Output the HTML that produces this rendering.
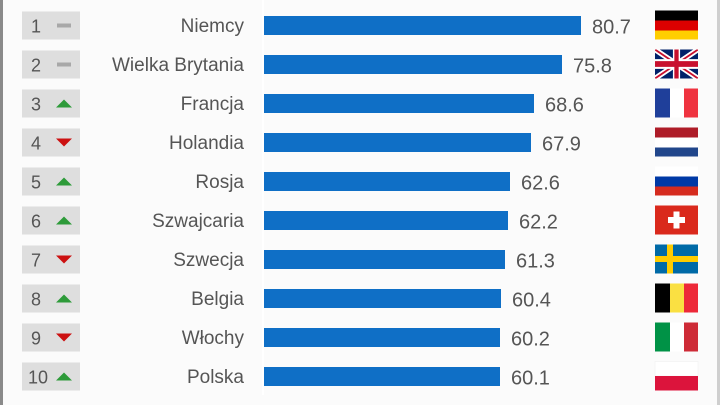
<!DOCTYPE html>
<html><head><meta charset="utf-8"><style>
html,body{margin:0;padding:0;background:#fff;}
svg{display:block;}
text{font-family:"Liberation Sans","DejaVu Sans",sans-serif;}
</style></head><body>
<svg width="720" height="405" viewBox="0 0 720 405" xmlns="http://www.w3.org/2000/svg">
<rect x="0" y="0" width="720" height="405" fill="#fbfbfb"/>
<rect x="0" y="0" width="3" height="405" fill="#8a8a8a"/>
<rect x="717" y="0" width="3" height="405" fill="#cfcfcf"/>
<rect x="262" y="0" width="2" height="395" fill="#ffffff"/>

<!-- rows -->
<g id="rows">
<!-- row template: c = 25.5 + 39*i -->
<g transform="translate(0,25.5)">
<rect x="22" y="-14" width="58" height="28" fill="#dedede"/>
<text x="31" y="7" font-size="18" fill="#555">1</text>
<rect x="57" y="-2" width="14" height="4" fill="#a8a8a8"/>
<text x="244" y="6.5" font-size="19" fill="#555" text-anchor="end">Niemcy</text>
<rect x="264" y="-9.5" width="317" height="19" fill="#0f6fc6"/>
<text x="592" y="8" font-size="20" fill="#555">80.7</text>
<g transform="translate(655,-15)"><rect width="43" height="10" fill="#000"/><rect y="10" width="43" height="10" fill="#dd0000"/><rect y="20" width="43" height="9" fill="#ffce00"/></g>
</g>
<g transform="translate(0,64.5)">
<rect x="22" y="-14" width="58" height="28" fill="#dedede"/>
<text x="31" y="7" font-size="18" fill="#555">2</text>
<rect x="57" y="-2" width="14" height="4" fill="#a8a8a8"/>
<text x="244" y="6.5" font-size="19" fill="#555" text-anchor="end">Wielka Brytania</text>
<rect x="264" y="-9.5" width="298" height="19" fill="#0f6fc6"/>
<text x="573" y="8" font-size="20" fill="#555">75.8</text>
<g transform="translate(655,-15)"><svg width="43" height="29" viewBox="0 0 60 30" preserveAspectRatio="none"><rect width="60" height="30" fill="#012169"/><path d="M0,0 L60,30 M60,0 L0,30" stroke="#fff" stroke-width="6"/><path d="M0,0 L60,30 M60,0 L0,30" stroke="#C8102E" stroke-width="2"/><path d="M30,0 V30 M0,15 H60" stroke="#fff" stroke-width="10"/><path d="M30,0 V30 M0,15 H60" stroke="#C8102E" stroke-width="6"/></svg></g>
</g>
<g transform="translate(0,103.5)">
<rect x="22" y="-14" width="58" height="28" fill="#dedede"/>
<text x="31" y="7" font-size="18" fill="#555">3</text>
<path d="M56,4 L64,-4 L72,4 Z" fill="#2e9b3a"/>
<text x="244" y="6.5" font-size="19" fill="#555" text-anchor="end">Francja</text>
<rect x="264" y="-9.5" width="270" height="19" fill="#0f6fc6"/>
<text x="545" y="8" font-size="20" fill="#555">68.6</text>
<g transform="translate(655,-15)"><rect width="15" height="29" fill="#1f3f9a"/><rect x="15" width="14" height="29" fill="#fff"/><rect x="29" width="14" height="29" fill="#ef3340"/></g>
</g>
<g transform="translate(0,142.5)">
<rect x="22" y="-14" width="58" height="28" fill="#dedede"/>
<text x="31" y="7" font-size="18" fill="#555">4</text>
<path d="M56,-4 L72,-4 L64,4 Z" fill="#cc1111"/>
<text x="244" y="6.5" font-size="19" fill="#555" text-anchor="end">Holandia</text>
<rect x="264" y="-9.5" width="267" height="19" fill="#0f6fc6"/>
<text x="542" y="8" font-size="20" fill="#555">67.9</text>
<g transform="translate(655,-15)"><rect width="43" height="10" fill="#ae1c28"/><rect y="10" width="43" height="10" fill="#fff"/><rect y="20" width="43" height="9" fill="#21468b"/></g>
</g>
<g transform="translate(0,181.5)">
<rect x="22" y="-14" width="58" height="28" fill="#dedede"/>
<text x="31" y="7" font-size="18" fill="#555">5</text>
<path d="M56,4 L64,-4 L72,4 Z" fill="#2e9b3a"/>
<text x="244" y="6.5" font-size="19" fill="#555" text-anchor="end">Rosja</text>
<rect x="264" y="-9.5" width="246" height="19" fill="#0f6fc6"/>
<text x="521" y="8" font-size="20" fill="#555">62.6</text>
<g transform="translate(655,-15)"><rect width="43" height="10" fill="#fff"/><rect y="10" width="43" height="10" fill="#0039a6"/><rect y="20" width="43" height="9" fill="#d52b1e"/></g>
</g>
<g transform="translate(0,220.5)">
<rect x="22" y="-14" width="58" height="28" fill="#dedede"/>
<text x="31" y="7" font-size="18" fill="#555">6</text>
<path d="M56,4 L64,-4 L72,4 Z" fill="#2e9b3a"/>
<text x="244" y="6.5" font-size="19" fill="#555" text-anchor="end">Szwajcaria</text>
<rect x="264" y="-9.5" width="244" height="19" fill="#0f6fc6"/>
<text x="519" y="8" font-size="20" fill="#555">62.2</text>
<g transform="translate(655,-15)"><rect width="43" height="29" fill="#da291c"/><rect x="18.5" y="6" width="6" height="17" fill="#fff"/><rect x="13" y="11.5" width="17" height="6" fill="#fff"/></g>
</g>
<g transform="translate(0,259.5)">
<rect x="22" y="-14" width="58" height="28" fill="#dedede"/>
<text x="31" y="7" font-size="18" fill="#555">7</text>
<path d="M56,-4 L72,-4 L64,4 Z" fill="#cc1111"/>
<text x="244" y="6.5" font-size="19" fill="#555" text-anchor="end">Szwecja</text>
<rect x="264" y="-9.5" width="241" height="19" fill="#0f6fc6"/>
<text x="516" y="8" font-size="20" fill="#555">61.3</text>
<g transform="translate(655,-15)"><rect width="43" height="29" fill="#006aa7"/><rect x="12" width="6" height="29" fill="#fecc00"/><rect y="11.5" width="43" height="6" fill="#fecc00"/></g>
</g>
<g transform="translate(0,298.5)">
<rect x="22" y="-14" width="58" height="28" fill="#dedede"/>
<text x="31" y="7" font-size="18" fill="#555">8</text>
<path d="M56,4 L64,-4 L72,4 Z" fill="#2e9b3a"/>
<text x="244" y="6.5" font-size="19" fill="#555" text-anchor="end">Belgia</text>
<rect x="264" y="-9.5" width="237" height="19" fill="#0f6fc6"/>
<text x="512" y="8" font-size="20" fill="#555">60.4</text>
<g transform="translate(655,-15)"><rect width="15" height="29" fill="#000"/><rect x="15" width="14" height="29" fill="#fae042"/><rect x="29" width="14" height="29" fill="#ed2939"/></g>
</g>
<g transform="translate(0,337.5)">
<rect x="22" y="-14" width="58" height="28" fill="#dedede"/>
<text x="31" y="7" font-size="18" fill="#555">9</text>
<path d="M56,-4 L72,-4 L64,4 Z" fill="#cc1111"/>
<text x="244" y="6.5" font-size="19" fill="#555" text-anchor="end">Włochy</text>
<rect x="264" y="-9.5" width="236" height="19" fill="#0f6fc6"/>
<text x="511" y="8" font-size="20" fill="#555">60.2</text>
<g transform="translate(655,-15)"><rect width="15" height="29" fill="#009246"/><rect x="15" width="14" height="29" fill="#fff"/><rect x="29" width="14" height="29" fill="#ce2b37"/></g>
</g>
<g transform="translate(0,376.5)">
<rect x="22" y="-14" width="58" height="28" fill="#dedede"/>
<text x="28" y="7" font-size="18" fill="#555">10</text>
<path d="M56,4 L64,-4 L72,4 Z" fill="#2e9b3a"/>
<text x="244" y="6.5" font-size="19" fill="#555" text-anchor="end">Polska</text>
<rect x="264" y="-9.5" width="236" height="19" fill="#0f6fc6"/>
<text x="511" y="8" font-size="20" fill="#555">60.1</text>
<g transform="translate(655,-15)"><rect width="43" height="14.5" fill="#fff" stroke="#eee" stroke-width="0.5"/><rect y="14.5" width="43" height="14.5" fill="#dc143c"/></g>
</g>
</g>
</svg>
</body></html>
